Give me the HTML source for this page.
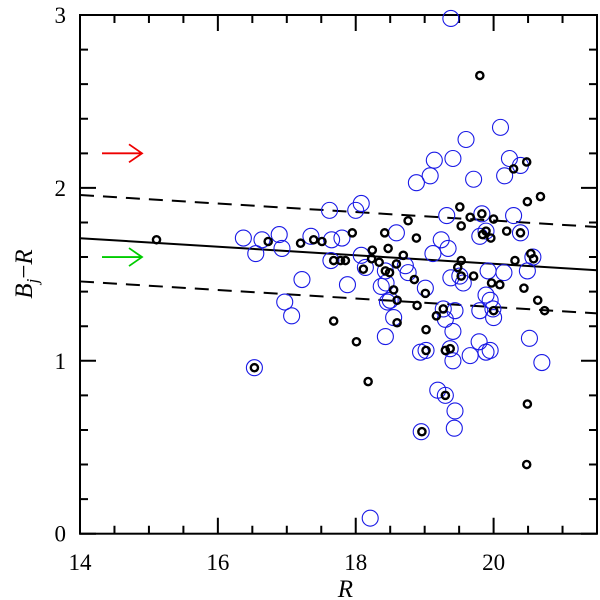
<!DOCTYPE html>
<html><head><meta charset="utf-8"><style>
html,body{margin:0;padding:0;background:#fff;}
svg{display:block;}
text{font-family:"Liberation Serif",serif;}
</style></head><body>
<svg id="chart" width="600" height="600" xmlns="http://www.w3.org/2000/svg"></svg>
<script>
const blackR=[15.11,16.73,17.20,17.39,17.51,17.95,17.68,17.78,17.85,17.68,18.01,16.53,20.48,20.29,20.68,20.49,19.51,19.66,19.83,20.00,19.53,18.76,18.42,18.88,19.84,19.89,19.96,20.19,20.39,18.47,18.24,18.69,18.23,18.34,18.59,18.11,18.43,18.49,18.85,19.53,19.48,19.53,19.71,19.97,20.09,20.31,20.54,20.58,20.44,18.55,19.01,18.60,18.89,20.64,20.74,19.27,19.17,20.00,18.60,19.02,19.02,19.30,19.37,18.18,19.30,18.96,20.49,20.48,19.80];
const blackC=[1.70,1.69,1.68,1.70,1.69,1.74,1.58,1.58,1.58,1.23,1.11,0.96,2.15,2.11,1.95,1.92,1.89,1.83,1.85,1.82,1.78,1.81,1.74,1.71,1.73,1.75,1.71,1.75,1.74,1.65,1.64,1.61,1.59,1.57,1.56,1.53,1.52,1.51,1.47,1.58,1.54,1.49,1.49,1.45,1.44,1.58,1.62,1.59,1.42,1.41,1.39,1.35,1.32,1.35,1.29,1.30,1.26,1.29,1.22,1.18,1.06,1.06,1.07,0.88,0.80,0.59,0.75,0.40,2.65];
const blueR=[16.37,16.64,16.89,16.55,16.93,17.62,17.35,17.65,17.80,17.64,17.22,16.97,17.07,17.88,16.53,18.00,20.10,19.60,19.14,19.41,19.08,18.88,19.71,20.23,20.16,20.39,18.08,19.32,19.83,20.29,19.89,19.80,20.39,18.59,19.24,19.34,19.12,18.08,18.72,18.14,18.43,18.76,18.44,18.37,19.38,19.51,19.56,19.92,20.15,20.49,20.57,19.01,18.50,19.89,19.95,19.27,19.44,19.80,19.99,18.55,18.46,18.43,19.30,19.41,18.94,19.02,19.37,19.41,19.66,19.79,19.89,19.95,20.00,20.52,20.70,19.19,19.30,19.44,19.43,18.95,18.21,19.38];
const blueC=[1.71,1.70,1.73,1.62,1.65,1.87,1.72,1.70,1.71,1.58,1.47,1.34,1.26,1.44,0.96,1.87,2.35,2.28,2.16,2.17,2.07,2.03,2.05,2.17,2.07,2.13,1.91,1.84,1.85,1.84,1.75,1.72,1.74,1.74,1.70,1.65,1.62,1.61,1.55,1.54,1.52,1.51,1.45,1.43,1.48,1.49,1.45,1.52,1.51,1.52,1.60,1.42,1.35,1.38,1.35,1.30,1.29,1.29,1.30,1.25,1.34,1.14,1.24,1.17,1.05,1.06,1.07,1.00,1.03,1.11,1.05,1.06,1.25,1.13,0.99,0.83,0.80,0.71,0.61,0.59,0.09,2.98];
const fitLine=[1.709,1.524];
const fitOffset=[0.25];
const xTicks=[14,16,18,20];
const yTicks=[0,1,2,3];
const arrowY=[2.2,1.6];

const X0=80,X1=597,Y0=533.7,Y1=15,xmin=14,xmax=21.5,ymin=0,ymax=3;
const sx=v=>X0+(v-xmin)/(xmax-xmin)*(X1-X0);
const sy=v=>Y0-(v-ymin)/(ymax-ymin)*(Y0-Y1);
const svg=document.getElementById('chart');
const NS='http://www.w3.org/2000/svg';
function mk(tag,attrs,parent){const e=document.createElementNS(NS,tag);for(const k in attrs)e.setAttribute(k,attrs[k]);(parent||svg).appendChild(e);return e;}

const frame=mk('rect',{x:X0,y:Y1,width:X1-X0,height:Y0-Y1,fill:'none',stroke:'#000','stroke-width':2});



for(let v=14;v<=21.5001;v+=0.5){
  const major=Math.abs(v-Math.round(v/2)*2)<1e-6;const L=major?16:8;const x=sx(v);
  const t=mk('path',{d:`M${x},${Y0}v${-L}M${x},${Y1}v${L}`,stroke:'#000','stroke-width':2});
  
  
}
for(let v=0;v<=3.0001;v+=0.2){
  const major=Math.abs(v-Math.round(v))<1e-6;const L=major?16:8;const y=sy(v);
  const t=mk('path',{d:`M${X0},${y}h${L}M${X1},${y}h${-L}`,stroke:'#000','stroke-width':2});
  
  
}
xTicks.forEach(v=>{const t=mk('text',{x:sx(v),y:570,'font-size':23,'text-anchor':'middle'});t.textContent=v;
  
  });
yTicks.forEach(v=>{const t=mk('text',{x:66,y:sy(v)+8,'font-size':23,'text-anchor':'end'});t.textContent=v;
  
  });

const xl=mk('text',{x:sx(17.85),y:597,'font-size':25,'font-style':'italic','text-anchor':'middle'});xl.textContent='R';


const yl=mk('text',{transform:'translate(32,274) rotate(-90)','font-size':25,'font-style':'italic','text-anchor':'middle'});
yl.innerHTML='B<tspan font-size="17" dy="6">j</tspan><tspan dy="-6" font-style="normal">−</tspan>R';



const fl=mk('line',{x1:sx(xmin),y1:sy(fitLine[0]),x2:sx(xmax),y2:sy(fitLine[1]),stroke:'#000','stroke-width':2});


[1,-1].forEach(s=>{const d=mk('line',{x1:sx(xmin),y1:sy(fitLine[0]+s*fitOffset[0]),x2:sx(xmax),y2:sy(fitLine[1]+s*fitOffset[0]),stroke:'#000','stroke-width':2,'stroke-dasharray':'14,9'});
  
  });

['#e00','#0c0'].forEach((c,i)=>{const y=sy(arrowY[i]);
  const a=mk('path',{d:`M102,${y}H142M129,${y-9}L142,${y}L129,${y+9}`,stroke:c,'stroke-width':1.8,fill:'none'});
  
  });

blueR.forEach((r,i)=>{const c=mk('circle',{cx:sx(r),cy:sy(blueC[i]),r:8,fill:'none',stroke:'#1a1ae6','stroke-width':1.1});
  
  });
blackR.forEach((r,i)=>{const c=mk('circle',{cx:sx(r),cy:sy(blackC[i]),r:3.6,fill:'none',stroke:'#000','stroke-width':2.4});
  
  });
</script>
</body></html>
